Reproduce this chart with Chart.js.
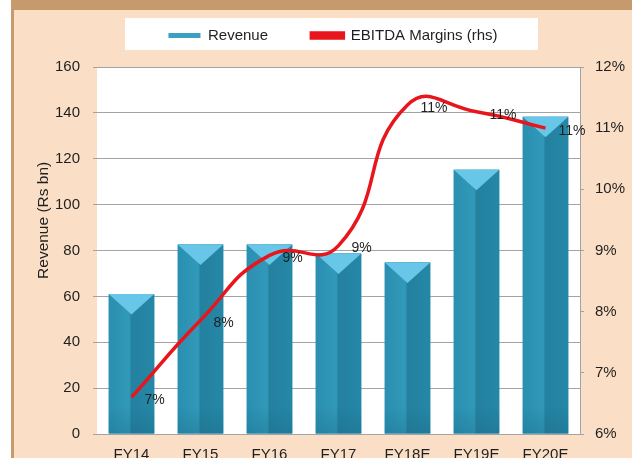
<!DOCTYPE html>
<html>
<head>
<meta charset="utf-8">
<script src="https://cdn.jsdelivr.net/npm/chart.js@4/dist/chart.umd.min.js"></script>
<style>
  html, body { margin: 0; padding: 0; background: #fff; }
  #wrap { width: 632px; height: 458px; }
</style>
</head>
<body>
<div id="wrap"><canvas id="grafico" width="632" height="458"></canvas></div>
<script>
// datos
const anios = ['FY14', 'FY15', 'FY16', 'FY17', 'FY18E', 'FY19E', 'FY20E'];
const ingresos = [61, 82.6, 82.6, 78.7, 74.8, 115.2, 138.3];   // Rs bn
const margenes = [6.6, 7.86, 8.92, 9.08, 11.38, 11.27, 11.0];   // %
const ticksIzq = [0, 20, 40, 60, 80, 100, 120, 140, 160];
const ticksDer = [6, 7, 8, 9, 10, 11, 12];

const FUENTE = 'Liberation Sans, Arial, sans-serif';
const TEXTO = '#1f1f1f';
const GRIS = '#a3a3a3';

// fondo del panel, area blanca del grafico y caja de la leyenda
const fondo = {
    id: 'fondo',
    beforeDraw(chart) {
        const c = chart.ctx, a = chart.chartArea;
        c.save();
        c.fillStyle = '#ffffff';
        c.fillRect(0, 0, chart.width, chart.height);
        c.fillStyle = '#fadfc6';
        c.fillRect(11, 0, chart.width - 11, chart.height);
        c.fillStyle = '#c59a6c';
        c.fillRect(11, 0, chart.width - 11, 10);
        c.fillRect(11, 0, 3, chart.height);
        c.fillStyle = '#ffffff';
        c.fillRect(a.left, a.top, a.right - a.left, a.bottom - a.top);
        c.fillRect(125, 18, 413, 32);
        c.restore();
    }
};

// columnas con cara clara/oscura y triangulo en la tapa
const columnas3d = {
    id: 'columnas3d',
    afterDatasetDraw(chart, args) {
        if (args.index !== 0) return;
        const c = chart.ctx;
        c.save();
        args.meta.data.forEach(bar => {
            const { x, y, width, base } = bar.getProps(['x', 'y', 'width', 'base'], true);
            const izq = x - width / 2, der = x + width / 2;
            const g = c.createLinearGradient(izq, 0, der, 0);
            g.addColorStop(0, '#2a8fb0');
            g.addColorStop(0.45, '#3199b9');
            g.addColorStop(0.5, '#24819f');
            g.addColorStop(1, '#2587a7');
            c.fillStyle = g;
            c.fillRect(izq, y, width, base - y);
            // sombra suave abajo
            const gb = c.createLinearGradient(0, base - 28, 0, base);
            gb.addColorStop(0, 'rgba(20,90,115,0)');
            gb.addColorStop(1, 'rgba(20,90,115,0.25)');
            c.fillStyle = gb;
            c.fillRect(izq, base - 28, width, 28);
            // tapa
            c.beginPath();
            c.moveTo(izq, y);
            c.lineTo(der, y);
            c.lineTo(x, y + width * 0.45);
            c.closePath();
            c.fillStyle = '#68c6e8';
            c.fill();
        });
        c.restore();
    }
};

// etiquetas de porcentaje a la derecha de cada punto
const etiquetas = {
    id: 'etiquetas',
    afterDatasetsDraw(chart) {
        const meta = chart.getDatasetMeta(1);
        const c = chart.ctx;
        c.save();
        c.font = '14px ' + FUENTE;
        c.fillStyle = TEXTO;
        c.textAlign = 'left';
        c.textBaseline = 'middle';
        meta.data.forEach((p, i) => {
            c.fillText(Math.round(margenes[i]) + '%', p.x + 13, p.y + 3);
        });
        c.restore();
    }
};

// altura fija de la leyenda para que el grafico empiece donde debe
const leyendaFija = {
    id: 'leyendaFija',
    beforeUpdate(chart) {
        const ley = chart.legend;
        if (!ley || ley._fijada) return;
        const fitOrig = ley.fit;
        ley.fit = function () { fitOrig.call(this); this.height = 49; };
        ley._fijada = true;
    }
};

new Chart(document.getElementById('grafico'), {
    data: {
        labels: anios,
        datasets: [
            {
                type: 'bar',
                label: 'Revenue',
                data: ingresos,
                yAxisID: 'y',
                backgroundColor: '#3a9fc1',
                borderWidth: 0,
                categoryPercentage: 1,
                barPercentage: 0.66,
                order: 1
            },
            {
                type: 'line',
                label: 'EBITDA Margins (rhs)',
                data: margenes,
                yAxisID: 'y1',
                borderColor: '#e8161c',
                backgroundColor: '#e8161c',
                borderWidth: 3.5,
                pointRadius: 0,
                tension: 0.5,
                order: 0
            }
        ]
    },
    options: {
        responsive: false,
        animation: false,
        layout: { padding: { top: 18, left: 34, right: 0, bottom: 0 } },
        plugins: {
            legend: {
                position: 'top',
                labels: {
                    font: { family: FUENTE, size: 15 },
                    color: TEXTO,
                    boxWidth: 32,
                    boxHeight: 5,
                    padding: 10,
                    sort: (a, b) => a.datasetIndex - b.datasetIndex,
                    // mas aire entre las dos entradas
                    generateLabels: chart => {
                        const items = Chart.defaults.plugins.legend.labels.generateLabels(chart);
                        items.forEach(it => { if (it.datasetIndex === 0) it.text += '        '; });
                        return items;
                    }
                }
            },
            tooltip: { enabled: false }
        },
        scales: {
            x: {
                grid: { display: false, drawTicks: false },
                border: { display: false },
                ticks: { font: { family: FUENTE, size: 15 }, color: TEXTO, padding: 12 },
                afterFit: s => { s.height = 24; }
            },
            y: {
                position: 'left',
                min: ticksIzq[0],
                max: ticksIzq[ticksIzq.length - 1],
                afterBuildTicks: s => { s.ticks = ticksIzq.map(v => ({ value: v })); },
                grid: { color: GRIS, tickLength: 4 },
                border: { display: false },
                ticks: { font: { family: FUENTE, size: 15 }, color: TEXTO, padding: 13 },
                title: {
                    display: true,
                    text: '              Revenue (Rs bn)',
                    font: { family: FUENTE, size: 15.5 },
                    color: TEXTO,
                    padding: 0
                },
                afterFit: s => { s.width = 63; }
            },
            y1: {
                position: 'right',
                min: ticksDer[0],
                max: ticksDer[ticksDer.length - 1],
                afterBuildTicks: s => { s.ticks = ticksDer.map(v => ({ value: v })); },
                grid: { drawOnChartArea: false, color: GRIS, tickLength: 4 },
                border: { display: true, color: GRIS },
                ticks: {
                    font: { family: FUENTE, size: 15 },
                    color: TEXTO,
                    padding: 11,
                    callback: v => v + '%'
                },
                afterFit: s => { s.width = 52; }
            }
        }
    },
    plugins: [fondo, columnas3d, etiquetas, leyendaFija]
});
</script>
</body>
</html>
